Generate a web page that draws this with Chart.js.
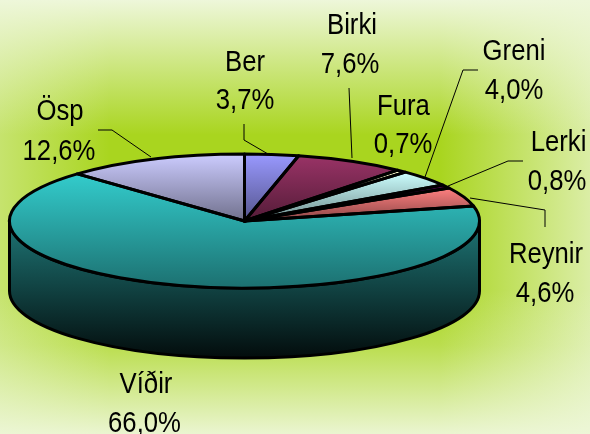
<!DOCTYPE html>
<html>
<head>
<meta charset="utf-8">
<title>Pie</title>
<script src="https://cdn.jsdelivr.net/npm/chart.js@4"></script>
<style>
    html, body { margin: 0; padding: 0; background: #fff; }
    #wrap { position: relative; width: 590px; height: 434px; }
</style>
</head>
<body>
<div id="wrap"><canvas id="pieChart" width="590" height="434"></canvas></div>
<script>
// Data
const categories = ['Ber', 'Birki', 'Fura', 'Greni', 'Lerki', 'Reynir', 'Víðir', 'Ösp'];
const shares = [3.7, 7.6, 0.7, 4.0, 0.8, 4.6, 66.0, 12.6];
const sliceColors = ['#9999FF', '#993366', '#FFFFCC', '#CCFFFF', '#660066', '#FF8080', '#33CCCC', '#CCCCFF'];

// Tilted pie on screen
const pieCenter = { x: 244.5, y: 221 };
const pieRadius = { x: 235, y: 67 };
const pieDepth = 70;

// Text spots [name x, name baseline, value x, value baseline]
const labelSpots = [
    [245, 71, 245, 109], [352, 34, 350, 73], [403.5, 115, 403, 153], [514, 60, 514, 99],
    [558.5, 151, 557, 190], [546, 263, 545, 302], [146, 393, 144.5, 432], [60, 120, 59, 160]
];
// Leader lines, Fura and Víðir have none
const leaders = [
    [[244, 124], [244, 140], [268, 154]],
    [[349, 88], [352, 158]],
    null,
    [[478, 70], [463, 70], [425, 177]],
    [[523, 161], [508, 161], [448, 186]],
    [[545, 227], [545, 210], [470, 198]],
    null,
    [[98, 130], [112, 130], [151, 157]]
];

// Darken a #rrggbb colour
function shade(hex, f) {
    const n = parseInt(hex.slice(1), 16);
    const r = Math.round((n >> 16 & 255) * f);
    const g = Math.round((n >> 8 & 255) * f);
    const b = Math.round((n & 255) * f);
    return `rgb(${r}, ${g}, ${b})`;
}

// Screen y of a slice's highest and lowest point, to hang its gradient on
function sliceBounds(start, end) {
    let top = 0, bottom = 0;
    [start, end].forEach(a => {
        top = Math.min(top, Math.sin(a));
        bottom = Math.max(bottom, Math.sin(a));
    });
    if (start < -Math.PI / 2 + 1e-6 || (start < 3 * Math.PI / 2 && end > 3 * Math.PI / 2)) top = -1;
    if (start < Math.PI / 2 && end > Math.PI / 2) bottom = 1;
    return [top, bottom];
}

// Outline of one slice in screen coordinates
function slicePath(ctx, start, end) {
    ctx.beginPath();
    ctx.moveTo(pieCenter.x, pieCenter.y);
    ctx.ellipse(pieCenter.x, pieCenter.y, pieRadius.x, pieRadius.y, 0, start, end);
    ctx.closePath();
}

// Pale wash over a strong green, stronger toward each edge
function paintBackground(ctx, w, h) {
    ctx.fillStyle = '#A9D51F';
    ctx.fillRect(0, 0, w, h);
    const wash = a => `rgba(238, 247, 218, ${a})`;

    let g = ctx.createLinearGradient(0, 0, w, 0);
    g.addColorStop(0, wash(0.42));
    g.addColorStop(110 / w, wash(0));
    g.addColorStop(440 / w, wash(0));
    g.addColorStop(1, wash(0.72));
    ctx.fillStyle = g;
    ctx.fillRect(0, 0, w, h);

    g = ctx.createLinearGradient(0, 0, 0, h);
    g.addColorStop(0, wash(1));
    g.addColorStop(135 / h, wash(0));
    g.addColorStop(290 / h, wash(0));
    g.addColorStop(345 / h, wash(0.25));
    g.addColorStop(1, wash(0.95));
    ctx.fillStyle = g;
    ctx.fillRect(0, 0, w, h);
}

const tiltedPie = {
    id: 'tiltedPie',
    beforeDraw(chart) {
        paintBackground(chart.ctx, chart.width, chart.height);
    },
    beforeDatasetsDraw(chart) {
        const ctx = chart.ctx;
        const arcs = chart.getDatasetMeta(0).data;

        // Wall of the disc, only the front half shows
        arcs.forEach((arc, i) => {
            const a0 = Math.max(arc.startAngle, 0);
            const a1 = Math.min(arc.endAngle, Math.PI);
            if (a1 <= a0) return;
            const g = ctx.createLinearGradient(0, pieCenter.y, 0, pieCenter.y + pieRadius.y + pieDepth);
            g.addColorStop(0, shade(sliceColors[i], 0.58));
            g.addColorStop(1, shade(sliceColors[i], 0.06));
            ctx.beginPath();
            ctx.ellipse(pieCenter.x, pieCenter.y, pieRadius.x, pieRadius.y, 0, a0, a1);
            ctx.ellipse(pieCenter.x, pieCenter.y + pieDepth, pieRadius.x, pieRadius.y, 0, a1, a0, true);
            ctx.closePath();
            ctx.fillStyle = g;
            ctx.fill();
            ctx.strokeStyle = '#000';
            ctx.lineWidth = 3;
            ctx.lineJoin = 'round';
            ctx.stroke();
        });

        // Each slice shades from its own top edge to its own bottom edge
        const cx = arcs[0].x, cy = arcs[0].y, r = arcs[0].outerRadius;
        arcs.forEach((arc, i) => {
            const [top, bottom] = sliceBounds(arc.startAngle, arc.endAngle);
            const g = ctx.createLinearGradient(0, cy + top * r, 0, cy + bottom * r);
            g.addColorStop(0, sliceColors[i]);
            g.addColorStop(1, shade(sliceColors[i], 0.55));
            arc.options.backgroundColor = g;
        });

        // Squash the library's circle onto the ellipse while it draws
        ctx.save();
        ctx.translate(pieCenter.x, pieCenter.y);
        ctx.scale(pieRadius.x / r, pieRadius.y / r);
        ctx.translate(-cx, -cy);
    },
    afterDatasetsDraw(chart) {
        const ctx = chart.ctx;
        ctx.restore();

        // Outlines at an even width, so after the squash
        ctx.strokeStyle = '#000';
        ctx.lineWidth = 3;
        ctx.lineJoin = 'round';
        chart.getDatasetMeta(0).data.forEach(arc => {
            slicePath(ctx, arc.startAngle, arc.endAngle);
            ctx.stroke();
        });

        // Leader lines
        ctx.lineWidth = 1;
        leaders.forEach(points => {
            if (!points) return;
            ctx.beginPath();
            points.forEach((p, k) => k ? ctx.lineTo(p[0], p[1]) : ctx.moveTo(p[0], p[1]));
            ctx.stroke();
        });

        // Labels, the reference text is stretched upright
        ctx.fillStyle = '#000';
        ctx.textAlign = 'center';
        ctx.textBaseline = 'alphabetic';
        ctx.font = '25.7px "Liberation Sans"';
        categories.forEach((name, i) => {
            const value = shares[i].toFixed(1).replace('.', ',') + '%';
            const spot = labelSpots[i];
            [name, value].forEach((text, k) => {
                ctx.save();
                ctx.translate(spot[k * 2], spot[k * 2 + 1]);
                ctx.scale(1, 1.17);
                ctx.fillText(text, 0, 0);
                ctx.restore();
            });
        });
    }
};

document.addEventListener('DOMContentLoaded', function() {
    const pieCtx = document.getElementById('pieChart').getContext('2d');

    new Chart(pieCtx, {
        type: 'pie',
        data: {
            labels: categories,
            datasets: [{
                data: shares,
                backgroundColor: sliceColors,
                borderWidth: 0
            }]
        },
        options: {
            responsive: false,
            animation: false,
            layout: { padding: 0 },
            plugins: {
                legend: { display: false },
                tooltip: { enabled: false }
            }
        },
        plugins: [tiltedPie]
    });
});
</script>
</body>
</html>
